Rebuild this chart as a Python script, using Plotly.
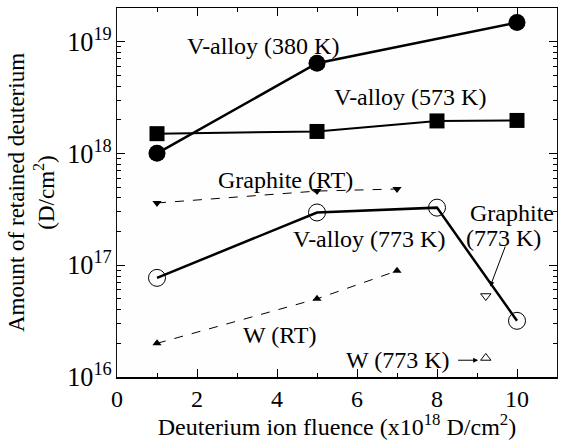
import plotly.graph_objects as go

# Data
x_va380 = [1, 5, 10]
y_va380 = [1.0e18, 6.4e18, 1.48e19]
x_va573 = [1, 5, 8, 10]
y_va573 = [1.5e18, 1.57e18, 1.95e18, 1.97e18]
x_grt = [1, 5, 7]
y_grt = [3.6e17, 4.6e17, 4.8e17]
x_va773 = [1, 5, 8, 10]
y_va773 = [7.7e16, 2.96e17, 3.27e17, 3.18e16]
x_wrt = [1, 5, 7]
y_wrt = [2.0e16, 5.0e16, 8.9e16]
x_g773 = [9.22]
y_g773 = [5.3e16]
x_w773 = [9.22]
y_w773 = [1.48e16]

FONT = "Liberation Serif"

fig = go.Figure()
fig.add_trace(go.Scatter(x=x_va380, y=y_va380, mode="lines+markers",
                         line=dict(color="black", width=2.5),
                         marker=dict(symbol="circle", size=17, color="black")))
fig.add_trace(go.Scatter(x=x_va573, y=y_va573, mode="lines+markers",
                         line=dict(color="black", width=2),
                         marker=dict(symbol="square", size=15, color="black")))
fig.add_trace(go.Scatter(x=x_grt, y=y_grt, mode="lines+markers",
                         line=dict(color="black", width=1, dash="dash"),
                         marker=dict(symbol="triangle-down", size=8, color="black")))
fig.add_trace(go.Scatter(x=x_va773, y=y_va773, mode="lines+markers",
                         line=dict(color="black", width=2.5),
                         marker=dict(symbol="circle-open", size=17, color="black",
                                     line=dict(width=1))))
fig.add_trace(go.Scatter(x=x_wrt, y=y_wrt, mode="lines+markers",
                         line=dict(color="black", width=1, dash="dash"),
                         marker=dict(symbol="triangle-up", size=8, color="black")))
fig.add_trace(go.Scatter(x=x_g773, y=y_g773, mode="markers",
                         marker=dict(symbol="triangle-down-open", size=9, color="black",
                                     line=dict(width=1))))
fig.add_trace(go.Scatter(x=x_w773, y=y_w773, mode="markers",
                         marker=dict(symbol="triangle-up-open", size=9, color="black",
                                     line=dict(width=1))))

labels = [
    ("V-alloy (380 K)", 3.65, 18.96),
    ("V-alloy (573 K)", 7.33, 18.50),
    ("Graphite (RT)", 4.21, 17.76),
    ("V-alloy (773 K)", 6.30, 17.23),
    ("Graphite", 9.88, 17.47),
    ("(773 K)", 9.65, 17.24),
    ("W (RT)", 4.05, 16.375),
    ("W (773 K)", 7.03, 16.15),
]
for t, ax_, ay_ in labels:
    fig.add_annotation(x=ax_, y=ay_, xref="x", yref="y", text=t, showarrow=False,
                       font=dict(family=FONT, size=24, color="black"))

arrows = [
    (9.33, 16.81, 9.72, 17.18),
    (9.03, 16.15, 8.49, 16.15),
]
for hx, hy, tx, ty in arrows:
    fig.add_annotation(x=hx, y=hy, ax=tx, ay=ty, xref="x", yref="y",
                       axref="x", ayref="y", text="", showarrow=True,
                       arrowhead=2, arrowsize=1, arrowwidth=1, arrowcolor="black")

fig.update_layout(
    width=563, height=440,
    margin=dict(l=117, r=6, t=8, b=63),
    paper_bgcolor="white", plot_bgcolor="#fefefe",
    showlegend=False,
    font=dict(family=FONT, size=24, color="black"),
    xaxis=dict(
        range=[0, 11], tick0=0, dtick=2,
        ticks="inside", ticklen=8, tickwidth=1, tickcolor="black",
        minor=dict(ticks="inside", ticklen=4, tickwidth=1, tickcolor="black", dtick=1),
        showline=True, linecolor="black", linewidth=1.5, mirror="ticks",
        showgrid=False, zeroline=False,
        tickfont=dict(family=FONT, size=24),
        title=dict(text="Deuterium ion fluence (x10<sup>18</sup> D/cm<sup>2</sup>)",
                   font=dict(family=FONT, size=24), standoff=0),
    ),
    yaxis=dict(
        type="log", range=[16, 19.3], dtick=1,
        exponentformat="power", showexponent="all",
        ticks="inside", ticklen=8, tickwidth=1, tickcolor="black",
        minor=dict(ticks="inside", ticklen=4, tickwidth=1, tickcolor="black", dtick="D1"),
        showline=True, linecolor="#111111", linewidth=1, mirror="ticks",
        showgrid=False, zeroline=False,
        tickfont=dict(family=FONT, size=21, color="black"),
        title=dict(text="Amount of retained deuterium<br>(D/cm<sup>2</sup>)",
                   font=dict(family=FONT, size=23, color="black"), standoff=6),
    ),
)

fig.write_html("out.html", config={"staticPlot": True})
